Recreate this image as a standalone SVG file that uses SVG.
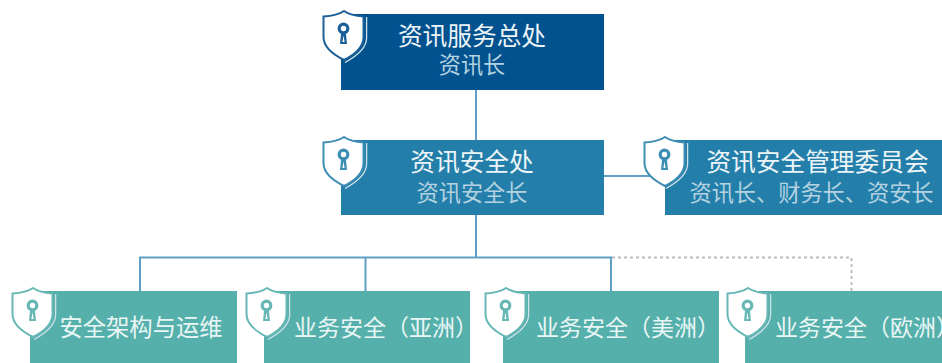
<svg xmlns="http://www.w3.org/2000/svg" width="942" height="363" viewBox="0 0 942 363">
<style>
text{font-family:"Noto Sans CJK SC","Noto Sans",sans-serif;text-anchor:middle;font-weight:400}
.t{fill:#eef5f8;font-size:24.700px}
.s{fill:#b4d2e0;font-size:22.200px}
.b{fill:#eaf6f5;font-size:23px}
.navy{fill:#02528f}.blue{fill:#237faa}.teal{fill:#55b0ac}
.c{fill:none;stroke:#5f9fc4;stroke-width:2}
.d{fill:none;stroke:#bcbcbc;stroke-width:2;stroke-dasharray:3 3}
.sh{fill:#fff;stroke:currentColor;stroke-width:2}
.sh2{fill:none;stroke:#cfe2ea;stroke-width:1.300}
.k{fill:currentColor}
.ks{fill:none;stroke:currentColor;stroke-width:3.200}
</style>
<defs>
<symbol id="shield" viewBox="0 0 46 54" width="46" height="54" overflow="visible">
<path class="sh" d="M22 1C17 4.500 9 6 1.500 6.500V27C1.500 37 12 45 22 50C32 45 41.500 37 41.500 27V6.500C35 6 27 4.500 22 1Z"/>
<path class="sh2" d="M44.600 7V28C44.600 38 33 47 23 52.500"/>
<circle class="ks" cx="21.500" cy="18.500" r="4.300"/>
<path class="k" d="M19 24H24L25 34H18Z"/>
<path d="M21.500 25.500L22.600 32H20.400Z" fill="#fff"/>
</symbol>
</defs>
<g id="connectors">
<path class="c" d="M476 90V140M476 215V257M604 176H665M140 291V257.500H611V291M365.500 257.500V291"/>
<path class="d" d="M612 257.500H851.500V291"/>
</g>
<g id="node-cio">
<rect class="navy" x="341" y="14" width="263" height="76"/>
<use href="#shield" x="322" y="10" style="color:#1a5f97"/>
<text class="t" x="472" y="45">资讯服务总处</text>
<text class="s" x="472" y="73">资讯长</text>
</g>
<g id="node-security">
<rect class="blue" x="341" y="140" width="263" height="75"/>
<use href="#shield" x="322" y="136" style="color:#3d8db4"/>
<text class="t" x="472" y="171">资讯安全处</text>
<text class="s" x="472" y="201">资讯安全长</text>
</g>
<g id="node-committee">
<rect class="blue" x="665" y="140" width="277" height="75"/>
<use href="#shield" x="643" y="136" style="color:#3d8db4"/>
<text class="t" x="817.500" y="171">资讯安全管理委员会</text>
<text class="s" x="811.500" y="201">资讯长、财务长、资安长</text>
</g>
<g id="node-ops">
<rect class="teal" x="30" y="291" width="207" height="72"/>
<use href="#shield" x="11" y="287" style="color:#67b8b4"/>
<text class="b" x="141" y="336" style="font-size:23.300px">安全架构与运维</text>
</g>
<g id="node-asia">
<rect class="teal" x="264" y="291" width="206" height="72"/>
<use href="#shield" x="245" y="287" style="color:#67b8b4"/>
<text class="b" x="386" y="336">业务安全（亚洲）</text>
</g>
<g id="node-america">
<rect class="teal" x="503" y="291" width="216" height="72"/>
<use href="#shield" x="484" y="287" style="color:#67b8b4"/>
<text class="b" x="628" y="336">业务安全（美洲）</text>
</g>
<g id="node-europe">
<rect class="teal" x="745" y="291" width="197" height="72"/>
<use href="#shield" x="726" y="287" style="color:#67b8b4"/>
<text class="b" x="867" y="336">业务安全（欧洲）</text>
</g>
</svg>
